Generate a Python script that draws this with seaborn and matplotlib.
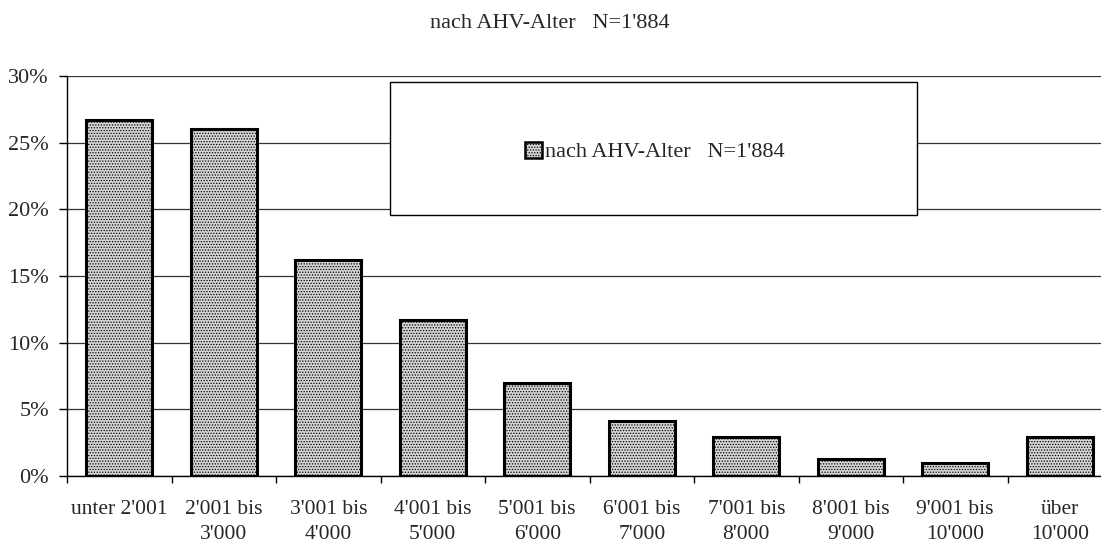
import matplotlib
matplotlib.use("Agg")
import matplotlib.pyplot as plt
import seaborn as sns
import pandas as pd
from matplotlib.patches import Rectangle
from matplotlib.ticker import FixedLocator, FuncFormatter

categories = ["unter 2'001", "2'001 bis\n3'000", "3'001 bis\n4'000", "4'001 bis\n5'000",
              "5'001 bis\n6'000", "6'001 bis\n7'000", "7'001 bis\n8'000", "8'001 bis\n9'000",
              "9'001 bis\n10'000", "über\n10'000"]
values = [26.7, 26.0, 16.2, 11.7, 7.0, 4.1, 2.9, 1.3, 1.0, 2.9]
series_name = "nach AHV-Alter   N=1'884"
yticks = [0, 5, 10, 15, 20, 25, 30]

sns.set_theme(style="white")
plt.rcParams['font.family'] = ['Liberation Serif', 'DejaVu Serif']
plt.rcParams['hatch.color'] = '#7a7a7a'
plt.rcParams['hatch.linewidth'] = 0.6

df = pd.DataFrame({"cat": categories, "val": values, "series": series_name})

W, H = 1101, 543
x0, x1, y0, y1 = 67, 1112, 476, 76
fig = plt.figure(figsize=(W / 100, H / 100), dpi=100)
ax = fig.add_axes([x0 / W, 1 - y0 / H, (x1 - x0) / W, (y0 - y1) / H])

sns.barplot(data=df, x="cat", y="val", hue="series", ax=ax, width=0.63,
            palette=["#d4d4d4"], edgecolor="black", linewidth=2.2, saturation=1)
for p in ax.patches:
    p.set_hatch("......")

ax.set_xlim(-0.5, len(categories) - 0.5)
ax.set_ylim(0, 30)
ax.set_yticks(yticks)
ax.yaxis.set_major_formatter(FuncFormatter(lambda v, pos: f"{int(v)}%"))
ax.grid(axis="y", color="#333333", linewidth=0.9)
ax.set_axisbelow(True)
for s in ["top", "right"]:
    ax.spines[s].set_visible(False)
for s in ["left", "bottom"]:
    ax.spines[s].set_color("black")
    ax.spines[s].set_linewidth(1)

ax.xaxis.set_minor_locator(FixedLocator([i - 0.5 for i in range(len(categories) + 1)]))
ax.tick_params(axis="x", which="major", length=0, pad=17, labelsize=15.5)
ax.tick_params(axis="x", which="minor", length=5, width=1, color="black", direction="out", bottom=True)
ax.tick_params(axis="y", which="major", length=6, width=1, color="black", direction="out", left=True, pad=7, labelsize=16)
for t in ax.get_xticklabels():
    t.set_linespacing(1.45)

ax.set_xlabel("")
ax.set_ylabel("")

fig.text(550 / W, 1 - 24 / H, series_name, ha="center", va="center", fontsize=16)

# legend box
def ax_x(px):
    return (px - x0) / (x1 - x0)

def ax_y(py):
    return (y0 - py) / (y0 - y1)

rect = Rectangle((ax_x(390), ax_y(215)), ax_x(917) - ax_x(390), ax_y(82) - ax_y(215),
                 transform=ax.transAxes, facecolor="white", edgecolor="black", linewidth=1, zorder=5)
ax.add_patch(rect)
leg = ax.legend(loc="center", bbox_to_anchor=(ax_x(655), ax_y(152)),
                frameon=False, fontsize=16, handlelength=0.75, handleheight=0.75, handletextpad=0.15)
leg.set_zorder(6)
for h in leg.legend_handles:
    h.set_hatch("......")
    h.set_linewidth(1.8)

fig.savefig("out.png", dpi=100)
